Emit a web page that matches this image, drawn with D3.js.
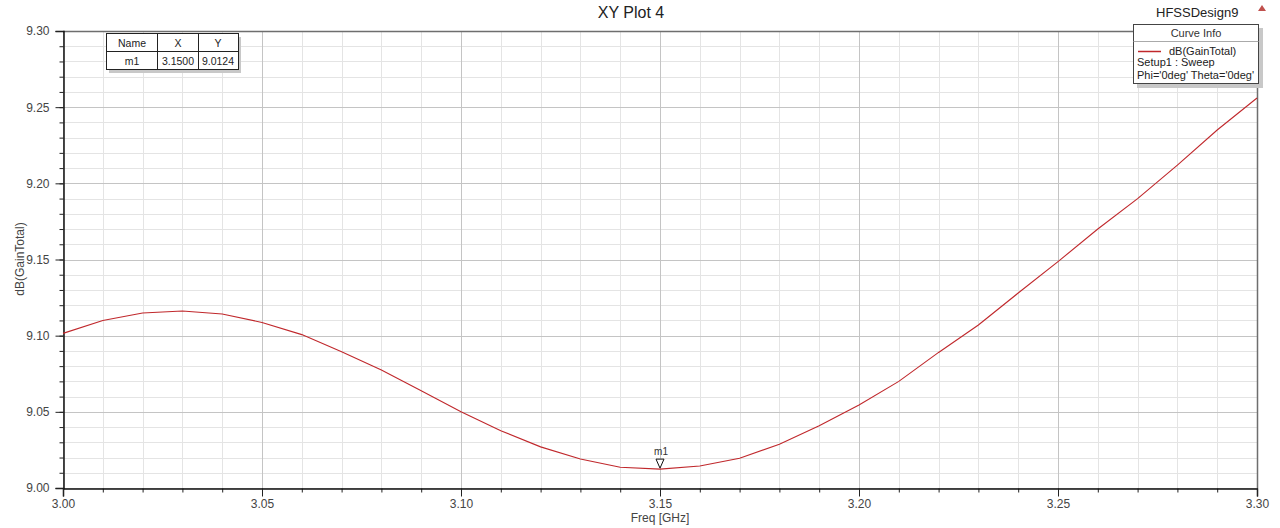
<!DOCTYPE html>
<html><head><meta charset="utf-8">
<script src="https://cdn.jsdelivr.net/npm/d3@7"></script>
<style>html,body{margin:0;padding:0;background:#fff;}svg{display:block;font-family:Arial,"Liberation Sans",sans-serif;}</style>
</head><body>
<script>
const freq = [3.00,3.01,3.02,3.03,3.04,3.05,3.06,3.07,3.08,3.09,3.10,3.11,3.12,3.13,3.14,3.15,3.16,3.17,3.18,3.19,3.20,3.21,3.22,3.23,3.24,3.25,3.26,3.27,3.28,3.29,3.30];
const gain = [9.1015,9.1100,9.1149,9.1162,9.1142,9.1087,9.1007,9.0895,9.0775,9.0639,9.0500,9.0376,9.0270,9.0190,9.0136,9.0124,9.0144,9.0195,9.0287,9.0408,9.0545,9.0700,9.0890,9.1070,9.1280,9.1486,9.1700,9.1900,9.2120,9.2350,9.2560];
const xTicks = [3.00,3.05,3.10,3.15,3.20,3.25,3.30];
const yTicks = [9.00,9.05,9.10,9.15,9.20,9.25,9.30];
const markerName = "m1", markerX = 3.15, markerY = 9.0124;

const W=1280,H=528;
const L=63,R=1257,T=31,B=488;
const svg=d3.select("body").append("svg").attr("width",W).attr("height",H);
const x=d3.scaleLinear().domain([3.0,3.3]).range([L,R]);
const y=d3.scaleLinear().domain([9.0,9.3]).range([B,T]);

// grid
const xMinor=d3.range(0,31).map(i=>3.0+i*0.01);
const yMinor=d3.range(0,31).map(i=>9.0+i*0.01);
const g=svg.append("g");
g.selectAll(".xm").data(xMinor).join("line").attr("x1",d=>Math.round(x(d))+0.5).attr("x2",d=>Math.round(x(d))+0.5).attr("y1",T).attr("y2",B).attr("stroke","#e4e4e4");
g.selectAll(".ym").data(yMinor).join("line").attr("y1",d=>Math.round(y(d))+0.5).attr("y2",d=>Math.round(y(d))+0.5).attr("x1",L).attr("x2",R).attr("stroke","#e4e4e4");
g.selectAll(".xM").data(xTicks).join("line").attr("x1",d=>Math.round(x(d))+0.5).attr("x2",d=>Math.round(x(d))+0.5).attr("y1",T).attr("y2",B).attr("stroke","#c4c4c4");
g.selectAll(".yM").data(yTicks).join("line").attr("y1",d=>Math.round(y(d))+0.5).attr("y2",d=>Math.round(y(d))+0.5).attr("x1",L).attr("x2",R).attr("stroke","#c4c4c4");

// frame
svg.append("line").attr("x1",L).attr("x2",R+1).attr("y1",T+0.5).attr("y2",T+0.5).attr("stroke","#6e6e6e").attr("stroke-width",1.5);
svg.append("line").attr("x1",R+0.5).attr("x2",R+0.5).attr("y1",T).attr("y2",B).attr("stroke","#6e6e6e").attr("stroke-width",1.5);

// axes
const yAxisMinor=d3.axisLeft(y).tickValues(yMinor).tickSize(4).tickFormat("");
svg.append("g").attr("transform",`translate(${L+0.5},0)`).call(yAxisMinor).call(s=>s.select(".domain").remove()).selectAll("line").attr("stroke","#222");
const yAxis=d3.axisLeft(y).tickValues(yTicks).tickSize(8).tickPadding(6).tickFormat(d3.format(".2f"));
const ya=svg.append("g").attr("transform",`translate(${L+0.5},0)`).call(yAxis);
ya.select(".domain").attr("stroke","#111").attr("stroke-width",1.5);
ya.selectAll("line").attr("stroke","#222");
ya.selectAll("text").attr("font-size",12).attr("fill","#444").attr("font-family","Arial,'Liberation Sans',sans-serif");

const xAxisMinor=d3.axisBottom(x).tickValues(xMinor).tickSize(4).tickFormat("");
svg.append("g").attr("transform",`translate(0,${B+0.5})`).call(xAxisMinor).call(s=>s.select(".domain").remove()).selectAll("line").attr("stroke","#222");
const xAxis=d3.axisBottom(x).tickValues(xTicks).tickSize(8).tickPadding(3).tickFormat(d3.format(".2f"));
const xa=svg.append("g").attr("transform",`translate(0,${B+0.5})`).call(xAxis);
xa.select(".domain").attr("stroke","#111").attr("stroke-width",1.5);
xa.selectAll("line").attr("stroke","#222");
xa.selectAll("text").attr("font-size",12).attr("fill","#444").attr("font-family","Arial,'Liberation Sans',sans-serif");

// labels
svg.append("text").attr("x",660).attr("y",522).attr("text-anchor","middle").attr("font-size",12).attr("fill","#444").text("Freq [GHz]");
svg.append("text").attr("transform","translate(24,259) rotate(-90)").attr("text-anchor","middle").attr("font-size",12).attr("fill","#444").text("dB(GainTotal)");
svg.append("text").attr("x",631).attr("y",18).attr("text-anchor","middle").attr("font-size",16).attr("fill","#222").text("XY Plot 4");
svg.append("text").attr("x",1156).attr("y",17).attr("font-size",13).attr("fill","#222").text("HFSSDesign9");
svg.append("path").attr("d","M1262,5 L1266,11 L1258,11 Z").attr("fill","#c0504d");

// curve
const line=d3.line().x((d,i)=>x(freq[i])).y(d=>y(d));
svg.append("path").datum(gain).attr("d",line).attr("fill","none").attr("stroke","#c0282c").attr("stroke-width",1.1);

// marker
const mx=x(markerX),my=y(markerY);
svg.append("path").attr("d",`M${mx-4},${my-10} L${mx+4},${my-10} L${mx},${my-1} Z`).attr("fill","#fff").attr("stroke","#111").attr("stroke-width",1);
svg.append("text").attr("x",mx+1).attr("y",my-14).attr("text-anchor","middle").attr("font-size",10).attr("fill","#333").text(markerName);

// marker table
const tb=svg.append("g");
tb.append("rect").attr("x",109).attr("y",37).attr("width",132).attr("height",36).attr("fill","#c8c8c8");
tb.append("rect").attr("x",106.5).attr("y",33.5).attr("width",132).attr("height",36).attr("fill","#fff").attr("stroke","#222");
tb.append("line").attr("x1",106.5).attr("x2",238.5).attr("y1",51.5).attr("y2",51.5).attr("stroke","#222");
[157.5,198.5].forEach(v=>tb.append("line").attr("x1",v).attr("x2",v).attr("y1",33.5).attr("y2",69.5).attr("stroke","#222"));
const cells=[["Name",132,47],["X",178,47],["Y",218,47],[markerName,132,65],[markerX.toFixed(4),178,65],[markerY.toFixed(4),218,65]];
cells.forEach(c=>tb.append("text").attr("x",c[1]).attr("y",c[2]).attr("text-anchor","middle").attr("font-size",10.5).attr("fill","#222").text(c[0]));

// legend
const lg=svg.append("g");
lg.append("rect").attr("x",1137).attr("y",28).attr("width",126).attr("height",60).attr("fill","#c8c8c8");
lg.append("rect").attr("x",1133.5).attr("y",24.5).attr("width",125).attr("height",59).attr("fill","#fff").attr("stroke","#444");
lg.append("line").attr("x1",1133.5).attr("x2",1258.5).attr("y1",41.5).attr("y2",41.5).attr("stroke","#aaa");
lg.append("text").attr("x",1196).attr("y",37).attr("text-anchor","middle").attr("font-size",11).attr("fill","#333").text("Curve Info");
lg.append("line").attr("x1",1138).attr("x2",1161).attr("y1",51.5).attr("y2",51.5).attr("stroke","#c0282c").attr("stroke-width",1.5);
lg.append("text").attr("x",1169).attr("y",55).attr("font-size",11).attr("fill","#222").text("dB(GainTotal)");
lg.append("text").attr("x",1137).attr("y",66).attr("font-size",11).attr("fill","#222").text("Setup1 : Sweep");
lg.append("text").attr("x",1137).attr("y",79).attr("font-size",11).attr("fill","#222").text("Phi='0deg' Theta='0deg'");
</script>
</body></html>
